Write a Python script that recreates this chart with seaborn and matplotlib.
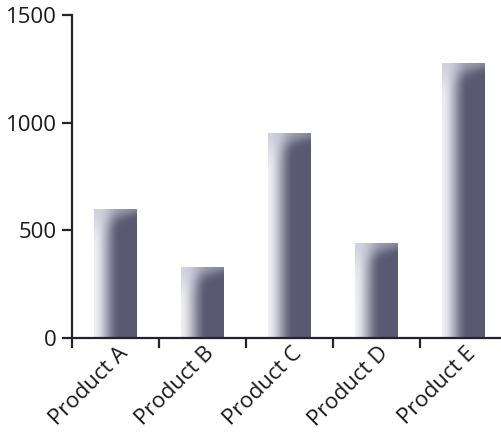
import numpy as np
import pandas as pd
import matplotlib
matplotlib.use("Agg")
import matplotlib.pyplot as plt
import matplotlib.transforms as mtransforms
import seaborn as sns

# Sales per product
products = ["Product A", "Product B", "Product C", "Product D", "Product E"]
sales = [600, 330, 950, 440, 1275]
y_ticks = [0, 500, 1000, 1500]

sns.set_theme(style="white")
plt.rcParams["font.family"] = ["Open Sans", "DejaVu Sans"]

df = pd.DataFrame({"product": products, "sales": sales})

fig = plt.figure(figsize=(5.01, 4.32), dpi=100)
ax = fig.add_axes([0.1437, 0.2176, 0.868, 0.7477])

sns.barplot(data=df, x="product", y="sales", color="#5a5a74", width=0.49,
            ax=ax, saturation=1)

# Shaded fill for each bar: light left edge fading to dark, with a soft top cap
light = np.array([0.93, 0.93, 0.95])
dark = np.array([0.35, 0.35, 0.45])
capc = np.array([0.80, 0.80, 0.86])
px_per_unit = 0.7477 * 432 / 1500
for patch in ax.patches:
    x0, y0 = patch.get_x(), patch.get_y()
    w, h = patch.get_width(), patch.get_height()
    nh = max(int(h * px_per_unit), 2)
    nw = 60
    u = np.linspace(0, 1, nw)[None, :]
    v = np.linspace(0, 1, nh)[:, None] * h * px_per_unit  # px from top
    t = np.clip(u / 0.6, 0, 1)
    t = t * t * (3 - 2 * t)
    base = light[None, None, :] + (dark - light)[None, None, :] * t[..., None]
    # highlight near the top, curving down from the top-left corner
    reach = 6 + 16 * (1 - u) ** 1.5
    cap = np.exp(-(v / reach) ** 2) * (1 - 0.55 * u)
    img = base + (capc - base) * np.clip(cap, 0, 1)[..., None] * 0.85
    img = np.clip(img, 0, 1)
    im = ax.imshow(img, extent=[x0, x0 + w, y0, y0 + h], origin="upper",
                   aspect="auto", zorder=patch.get_zorder() + 0.1,
                   interpolation="bilinear")
    im.set_clip_path(patch)
ax.set_xlim(-0.5, 4.5)
ax.set_ylim(0, 1500)

ink = "#23232e"
for side in ("top", "right"):
    ax.spines[side].set_visible(False)
for side in ("left", "bottom"):
    ax.spines[side].set_color(ink)
    ax.spines[side].set_linewidth(1.6)

ax.set_yticks(y_ticks)
ax.set_yticklabels([str(v) for v in y_ticks], fontsize=16, color="#1a1a1a")
ax.tick_params(axis="y", direction="out", length=7, width=1.6, color=ink,
               left=True, pad=4)

ax.set_xticks(np.arange(-0.5, 5.0, 1.0), minor=True)
ax.tick_params(axis="x", which="minor", direction="out", length=7, width=1.6,
               color=ink, bottom=True)
ax.tick_params(axis="x", which="major", length=0, pad=6)
ax.set_xticks(range(len(products)))
ax.set_xticklabels(products, rotation=45, ha="right", va="center",
                   rotation_mode="anchor", fontsize=16, color="#1a1a1a")
for lbl in ax.get_xticklabels():
    lbl.set_transform(lbl.get_transform() +
                      mtransforms.ScaledTranslation(9 / 100, -4 / 100, fig.dpi_scale_trans))

ax.set_xlabel("")
ax.set_ylabel("")
ax.grid(False)

fig.savefig("out.png", dpi=100, facecolor="white")
